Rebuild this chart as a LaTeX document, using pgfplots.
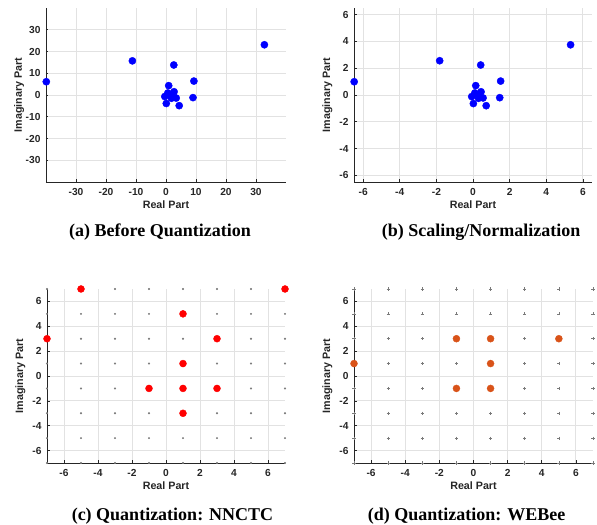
\documentclass[border=0pt]{standalone}
\usepackage{fontspec}
\setmainfont{Liberation Serif}
\setsansfont{Liberation Sans}
\usepackage{pgfplots}
\pgfplotsset{compat=1.18}
\usepackage{pgfplotstable}
\definecolor{axgray}{HTML}{262626}
\definecolor{gridgray}{HTML}{E2E2E2}
\definecolor{mblue}{HTML}{0000FF}
\definecolor{mred}{HTML}{FF0000}
\definecolor{morange}{HTML}{D95319}
\definecolor{constgray}{HTML}{7A7A7A}

\pgfplotstableread{
x y
-6.49 0.99
-1.82 2.56
0.42 2.24
5.33 3.75
1.51 1.04
1.46 -0.20
0.15 0.70
0.72 -0.80
0.02 -0.64
0.44 0.24
0.55 -0.22
-0.07 -0.12
0.27 0.02
0.10 0.15
0.30 -0.25
}\normdata

\pgfplotstableread{
x y
-39.9 6.1
-11.2 15.7
2.6 13.8
32.8 23.1
9.3 6.4
9.0 -1.2
0.9 4.3
4.4 -4.9
0.1 -3.9
2.7 1.5
3.4 -1.4
-0.4 -0.7
1.7 0.1
0.6 0.9
1.8 -1.5
}\rawdata

\pgfplotstableread{
x y
-7 -7
-7 -5
-7 -3
-7 -1
-7 1
-7 3
-7 5
-7 7
-5 -7
-5 -5
-5 -3
-5 -1
-5 1
-5 3
-5 5
-5 7
-3 -7
-3 -5
-3 -3
-3 -1
-3 1
-3 3
-3 5
-3 7
-1 -7
-1 -5
-1 -3
-1 -1
-1 1
-1 3
-1 5
-1 7
1 -7
1 -5
1 -3
1 -1
1 1
1 3
1 5
1 7
3 -7
3 -5
3 -3
3 -1
3 1
3 3
3 5
3 7
5 -7
5 -5
5 -3
5 -1
5 1
5 3
5 5
5 7
7 -7
7 -5
7 -3
7 -1
7 1
7 3
7 5
7 7
}\qamgrid

\pgfplotstableread{
x y
-5 7
7 7
-7 3
1 5
3 3
1 1
-1 -1
1 -1
3 -1
1 -3
}\nnctc

\pgfplotstableread{
x y
-7 1
-1 3
1 3
5 3
1 1
-1 -1
1 -1
}\webee

\pgfplotsset{
  mstyle/.style={
    scale only axis,
    anchor=south west,
    axis x line*=bottom,
    axis y line*=left,
    axis line style={axgray, line width=0.8bp},
    tick align=inside,
    major tick length=2.5bp,
    tick style={axgray, line width=0.6bp},
    grid=major,
    grid style={gridgray, line width=0.9bp},
    clip marker paths=false,
    clip=false,
    /pgf/number format/assume math mode=true,
    tick label style={font=\sffamily\bfseries\fontsize{10.2bp}{12bp}\selectfont, text=axgray},
    yticklabel style={xshift=-2bp},
    xticklabel style={yshift=-2.7bp},
    label style={font=\sffamily\bfseries\fontsize{10.7bp}{12bp}\selectfont, text=axgray},
    xlabel={Real Part},
    ylabel={Imaginary Part},
    xlabel style={at={(axis description cs:0.5,-0.155)}, anchor=base},
    ylabel style={at={(axis description cs:-0.1,0.5)}, anchor=base, rotate=0},
    height=174bp,
  },
  qstyle/.style={
    mstyle,
    xmin=-7, xmax=7, ymin=-7, ymax=7,
    xtick={-6,-4,...,6}, ytick={-6,-4,...,6},
  }
}

\begin{document}
\begin{tikzpicture}
\path[use as bounding box] (0,0) rectangle (597bp,525bp);

% (a)
\begin{axis}[mstyle, at={(46bp,343bp)}, width=240bp,
  xmin=-40, xmax=40, ymin=-40, ymax=40,
  xtick={-30,-20,...,30}, ytick={-30,-20,...,30}]
\addplot[only marks, mark=*, mark size=3.6bp, color=mblue] table {\rawdata};
\end{axis}

% (b)
\begin{axis}[mstyle, at={(354bp,343bp)}, width=238bp,
  xmin=-6.5, xmax=6.5, ymin=-6.5, ymax=6.5,
  xtick={-6,-4,...,6}, ytick={-6,-4,...,6}]
\addplot[only marks, mark=*, mark size=3.6bp, color=mblue] table {\normdata};
\end{axis}

% (c)
\begin{axis}[qstyle, at={(47bp,62bp)}, width=238bp]
\addplot[only marks, mark=*, mark size=0.8bp, color=constgray] table {\qamgrid};
\addplot[only marks, mark=*, mark size=3.5bp, color=mred] table {\nnctc};
\end{axis}

% (d)
\begin{axis}[qstyle, at={(354bp,62bp)}, width=239bp]
\addplot[only marks, mark=+, mark size=1.6bp, color=constgray, line width=0.5bp] table {\qamgrid};
\addplot[only marks, mark=*, mark size=3.5bp, color=morange] table {\webee};
\end{axis}

\node[font=\bfseries\fontsize{18bp}{20bp}\selectfont, anchor=base] at (160bp,288.3bp) {(a) Before Quantization};
\node[font=\bfseries\fontsize{18bp}{20bp}\selectfont, anchor=base] at (481bp,288.3bp) {(b) Scaling/Normalization};
\node[font=\bfseries\fontsize{18bp}{20bp}\selectfont, anchor=base] at (172.5bp,4.5bp) {(c) Quantization: NNCTC};
\node[font=\bfseries\fontsize{18bp}{20bp}\selectfont, anchor=base] at (466.7bp,4.5bp) {(d) Quantization: WEBee};
\end{tikzpicture}
\end{document}
